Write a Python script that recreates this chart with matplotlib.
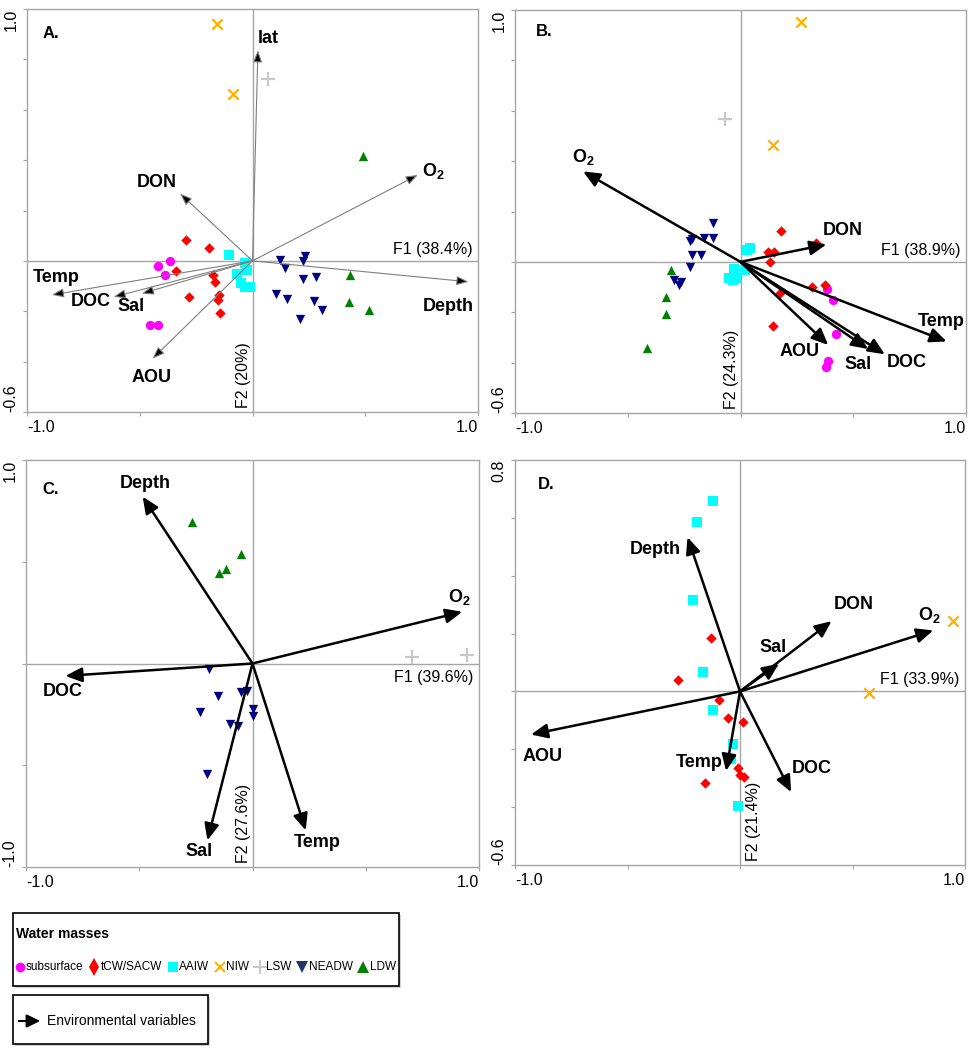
import matplotlib
matplotlib.use('Agg')
import matplotlib.pyplot as plt
from matplotlib import font_manager
from matplotlib.patches import Rectangle, FancyArrowPatch
from matplotlib.lines import Line2D

plt.rcParams['font.family'] = ['Liberation Sans', 'DejaVu Sans']
plt.rcParams['mathtext.fontset'] = 'custom'
plt.rcParams['mathtext.rm'] = 'Liberation Sans'
plt.rcParams['mathtext.bf'] = 'Liberation Sans:bold'

# water mass groups (legend order)
groups = ['subsurface', 'tCW/SACW', 'AAIW', 'NIW', 'LSW', 'NEADW', 'LDW']
colors = ['#FF00FF', '#FF0000', '#00FFFF', '#FFB000', '#C8C8C8', '#000080', '#008000']
legend_colors = ['#FF00FF', '#FF0000', '#00FFFF', '#FFB000', '#C8C8C8', '#1F3864', '#008000']
markers = ['o', 'D', 's', 'x', '+', 'v', '^']
msizes = [45, 28, 42, 55, 90, 45, 45]

# ---- panel A: sample scores ----
a_pts = {
    'subsurface': ([-0.417, -0.365, -0.387, -0.454, -0.417], [-0.020, 0.0, -0.056, -0.254, -0.254]),
    'tCW/SACW': ([-0.296, -0.195, -0.339, -0.173, -0.166, -0.281, -0.148, -0.155, -0.143],
                 [0.082, 0.053, -0.040, -0.056, -0.083, -0.143, -0.136, -0.156, -0.208]),
    'AAIW': ([-0.102, -0.033, -0.025, -0.069, -0.052, -0.033, -0.013],
             [0.024, -0.007, -0.037, -0.053, -0.086, -0.103, -0.103]),
    'NIW': ([-0.158, -0.087], [0.942, 0.664]),
    'LSW': ([0.068], [0.724]),
    'NEADW': ([0.123, 0.234, 0.223, 0.145, 0.223, 0.281, 0.105, 0.152, 0.271, 0.307, 0.211],
              [0.003, 0.020, 0.0, -0.030, -0.073, -0.066, -0.130, -0.150, -0.161, -0.195, -0.232]),
    'LDW': ([0.488, 0.433, 0.426, 0.517], [0.417, -0.057, -0.165, -0.196]),
}
a_vars = ['lat', 'O2', 'DON', 'Temp', 'DOC', 'Sal', 'AOU', 'Depth']
a_vx = [0.024, 0.733, -0.321, -0.890, -0.616, -0.491, -0.443, 0.958]
a_vy = [0.836, 0.341, 0.267, -0.135, -0.143, -0.130, -0.388, -0.083]

# ---- panel B ----
b_pts = {
    'subsurface': ([0.384, 0.408, 0.423, 0.389, 0.381], [-0.106, -0.153, -0.287, -0.394, -0.416]),
    'tCW/SACW': ([0.179, 0.337, 0.123, 0.148, 0.130, 0.315, 0.374, 0.177, 0.142],
                 [0.122, 0.073, 0.040, 0.040, 0.0, -0.100, -0.093, -0.124, -0.253]),
    'AAIW': ([0.027, 0.044, -0.030, 0.019, -0.050, -0.033, -0.018],
             [0.049, 0.056, -0.027, -0.031, -0.064, -0.070, -0.066]),
    'NIW': ([0.268, 0.142], [0.953, 0.464]),
    'LSW': ([-0.067], [0.568]),
    'NEADW': ([-0.121, -0.213, -0.163, -0.121, -0.222, -0.214, -0.173, -0.225, -0.294, -0.265, -0.272],
              [0.156, 0.089, 0.096, 0.093, 0.082, 0.029, 0.029, -0.020, -0.070, -0.081, -0.090]),
    'LDW': ([-0.309, -0.331, -0.331, -0.414], [-0.031, -0.141, -0.207, -0.340]),
}
b_vars = ['O2', 'DON', 'Temp', 'AOU', 'Sal', 'DOC']
b_vx = [-0.698, 0.381, 0.914, 0.389, 0.566, 0.640]
b_vy = [0.359, 0.069, -0.316, -0.330, -0.346, -0.367]

# ---- panel C ----
c_pts = {
    'LSW': ([0.706, 0.949], [0.033, 0.041]),
    'NEADW': ([-0.194, -0.154, -0.051, -0.026, -0.231, 0.004, 0.0, -0.099, -0.066, -0.203],
              [-0.025, -0.161, -0.139, -0.134, -0.238, -0.226, -0.257, -0.295, -0.308, -0.541]),
    'LDW': ([-0.269, -0.049, -0.115, -0.150], [0.697, 0.538, 0.462, 0.446]),
}
c_vars = ['Depth', 'O2', 'DOC', 'Sal', 'Temp']
c_vx = [-0.485, 0.926, -0.826, -0.199, 0.235]
c_vy = [0.820, 0.254, -0.061, -0.869, -0.820]

# ---- panel D ----
d_pts = {
    'tCW/SACW': ([-0.130, -0.277, -0.093, -0.055, 0.015, -0.007, 0.0, 0.019, -0.156],
                 [0.184, 0.038, -0.031, -0.091, -0.106, -0.264, -0.290, -0.296, -0.316]),
    'AAIW': ([-0.119, -0.193, -0.210, -0.163, -0.119, -0.033, -0.040, -0.007],
             [0.660, 0.585, 0.315, 0.067, -0.063, -0.181, -0.235, -0.396]),
    'NIW': ([0.948, 0.573], [0.245, -0.006]),
}
d_vars = ['Depth', 'DON', 'Sal', 'O2', 'AOU', 'Temp', 'DOC']
d_vx = [-0.233, 0.407, 0.173, 0.859, -0.929, -0.062, 0.227]
d_vy = [0.533, 0.243, 0.096, 0.211, -0.149, -0.275, -0.348]

# layout: label centres for each variable (data coords)
a_lab = {'lat': (0.071, 0.884), 'O2': (0.803, 0.357), 'DON': (-0.424, 0.311), 'Temp': (-0.871, -0.066),
         'DOC': (-0.717, -0.161), 'Sal': (-0.538, -0.181), 'AOU': (-0.449, -0.463), 'Depth': (0.869, -0.181)}
b_lab = {'O2': (-0.698, 0.415), 'DON': (0.452, 0.125), 'Temp': (0.891, -0.237), 'AOU': (0.263, -0.356),
         'Sal': (0.519, -0.406), 'DOC': (0.739, -0.399)}
c_lab = {'Depth': (-0.475, 0.885), 'O2': (0.912, 0.328), 'DOC': (-0.838, -0.139), 'Sal': (-0.235, -0.923),
         'Temp': (0.287, -0.882)}
d_lab = {'Depth': (-0.378, 0.491), 'DON': (0.504, 0.301), 'Sal': (0.145, 0.151), 'O2': (0.841, 0.265),
         'AOU': (-0.877, -0.224), 'Temp': (-0.181, -0.244), 'DOC': (0.319, -0.267)}

W, H = 974, 1050
fig = plt.figure(figsize=(W / 100, H / 100), dpi=100)


def px_axes(l, t, r, b):
    return fig.add_axes([l / W, 1 - b / H, (r - l) / W, (b - t) / H])


def var_text(name):
    return r'O$_\mathbf{2}$' if name == 'O2' else name


def setup(ax, ylim, yticks, ylabels, f1, f2, f1_below=False, f2_right=False):
    ax.set_xlim(-1, 1)
    ax.set_ylim(*ylim)
    for s in ax.spines.values():
        s.set_color('#a6a6a6')
        s.set_linewidth(1.0)
    ax.axhline(0, color='#a6a6a6', lw=1.0, zorder=0)
    ax.axvline(0, color='#a6a6a6', lw=1.0, zorder=0)
    ax.set_xticks([-1, -0.5, 0, 0.5, 1])
    ax.set_xticklabels(['-1.0', '', '', '', '1.0'], fontsize=11.5)
    xl = ax.get_xticklabels()
    xl[0].set_ha('left')
    xl[-1].set_ha('right')
    ax.set_yticks(yticks)
    ax.set_yticklabels(ylabels, fontsize=11.5, rotation=90)
    yl = ax.get_yticklabels()
    yl[0].set_va('bottom')
    yl[-1].set_va('top')
    ax.tick_params(length=3, width=0.8, color='#a6a6a6', pad=3)
    if f1_below:
        ax.annotate(f1, xy=(1, 0), xycoords=('axes fraction', 'data'), xytext=(-4, -5),
                    textcoords='offset points', ha='right', va='top', fontsize=11.5)
    else:
        ax.annotate(f1, xy=(1, 0), xycoords=('axes fraction', 'data'), xytext=(-4, 3),
                    textcoords='offset points', ha='right', va='bottom', fontsize=11.5)
    if f2_right:
        ax.annotate(f2, xy=(0, 0), xycoords=('data', 'axes fraction'), xytext=(4, 3),
                    textcoords='offset points', ha='left', va='bottom', rotation=90, fontsize=11.5)
    else:
        ax.annotate(f2, xy=(0, 0), xycoords=('data', 'axes fraction'), xytext=(-1, 3),
                    textcoords='offset points', ha='right', va='bottom', rotation=90, fontsize=11.5)


def draw_points(ax, pts):
    for g, (xs, ys) in pts.items():
        i = groups.index(g)
        lw = 1.6 if markers[i] in ('x', '+') else 0
        ax.scatter(xs, ys, marker=markers[i], s=msizes[i], color=colors[i], linewidths=lw, zorder=3)


def draw_vectors(ax, names, vx, vy, labels, thin=False):
    for n, x, y in zip(names, vx, vy):
        if thin:
            props = dict(arrowstyle='-|>,head_length=0.45,head_width=0.17', ec='#7f7f7f', fc='black',
                         lw=0.8, mutation_scale=16, shrinkA=0, shrinkB=0)
        else:
            props = dict(arrowstyle='-|>,head_length=0.5,head_width=0.22', color='black',
                         lw=1.8, mutation_scale=20, shrinkA=0, shrinkB=0)
        ax.annotate('', xy=(x, y), xytext=(0, 0), arrowprops=props, zorder=4)
        lx, ly = labels[n]
        ax.text(lx, ly, var_text(n), ha='center', va='center', fontsize=13, fontweight='bold', zorder=5)


yt_a = [-0.6, -0.4, -0.2, 0, 0.2, 0.4, 0.6, 0.8, 1.0]
yl_a = ['-0.6'] + [''] * 7 + ['1.0']

axA = px_axes(27, 9, 478, 412)
setup(axA, (-0.6, 1.0), yt_a, yl_a, 'F1 (38.4%)', 'F2 (20%)')
draw_vectors(axA, a_vars, a_vx, a_vy, a_lab, thin=True)
draw_points(axA, a_pts)
axA.text(0.035, 0.958, 'A.', transform=axA.transAxes, fontsize=12, fontweight='bold', va='top')

axB = px_axes(515, 10, 966, 413)
setup(axB, (-0.6, 1.0), yt_a, yl_a, 'F1 (38.9%)', 'F2 (24.3%)')
draw_points(axB, b_pts)
draw_vectors(axB, b_vars, b_vx, b_vy, b_lab)
axB.text(0.047, 0.965, 'B.', transform=axB.transAxes, fontsize=12, fontweight='bold', va='top')

axC = px_axes(26, 460, 479, 867)
setup(axC, (-1.0, 1.0), [-1.0, -0.5, 0, 0.5, 1.0], ['-1.0', '', '', '', '1.0'],
      'F1 (39.6%)', 'F2 (27.6%)', f1_below=True)
draw_points(axC, c_pts)
draw_vectors(axC, c_vars, c_vx, c_vy, c_lab)
axC.text(0.037, 0.946, 'C.', transform=axC.transAxes, fontsize=12, fontweight='bold', va='top')

axD = px_axes(515, 460, 965, 865)
setup(axD, (-0.6, 0.8), [-0.6, -0.4, -0.2, 0, 0.2, 0.4, 0.6, 0.8], ['-0.6'] + [''] * 6 + ['0.8'],
      'F1 (33.9%)', 'F2 (21.4%)', f2_right=True)
draw_points(axD, d_pts)
draw_vectors(axD, d_vars, d_vx, d_vy, d_lab)
axD.text(0.051, 0.958, 'D.', transform=axD.transAxes, fontsize=12, fontweight='bold', va='top')


# ---- legend boxes (drawn in figure pixels) ----
def fx(x):
    return x / W


def fy(y):
    return 1 - y / H


# use a narrow face if one is installed, the reference legend is set condensed
leg_family = ['Liberation Sans', 'DejaVu Sans']
if any(f.name == 'Liberation Sans Narrow' for f in font_manager.fontManager.ttflist):
    leg_family = ['Liberation Sans Narrow', 'Liberation Sans']


def box(l, t, r, b):
    fig.add_artist(Rectangle((fx(l + 2), fy(b + 2)), (r - l) / W, (b - t) / H, transform=fig.transFigure,
                             fc='#d0d0d0', ec='none', zorder=1))
    fig.add_artist(Rectangle((fx(l), fy(b)), (r - l) / W, (b - t) / H, transform=fig.transFigure,
                             fc='white', ec='black', lw=1.2, zorder=2))


box(13, 913, 399, 986)
fig.text(fx(16), fy(934), 'Water masses', family=leg_family, fontsize=10, fontweight='bold',
         va='center', zorder=3)

# lay the entries out one after another so the row fills the box
leg_fs = 8.5
leg_ms = [7, 9, 6.5, 6.5, 10, 8, 9]
r = fig.canvas.get_renderer()
widths = []
for g in groups:
    t = fig.text(0, 0, g, family=leg_family, fontsize=leg_fs)
    widths.append(t.get_window_extent(r).width)
    t.remove()
mark_w, mark_gap = 9, 2
row_l, row_r = 15, 396
gap = (row_r - row_l - sum(widths) - len(groups) * (mark_w + mark_gap)) / (len(groups) - 1)
x = row_l
for i, g in enumerate(groups):
    mk = 'd' if markers[i] == 'D' else markers[i]
    fig.add_artist(Line2D([fx(x + mark_w / 2)], [fy(967)], transform=fig.transFigure, marker=mk,
                          ms=leg_ms[i], color=legend_colors[i], mew=1.5 if mk in ('x', '+') else 0,
                          ls='none', zorder=3))
    fig.text(fx(x + mark_w + mark_gap), fy(967), g, family=leg_family, fontsize=leg_fs, va='center', zorder=3)
    x += mark_w + mark_gap + widths[i] + gap

box(13, 995, 208, 1044)
fig.add_artist(FancyArrowPatch((fx(16), fy(1021)), (fx(43), fy(1021)), transform=fig.transFigure,
                               arrowstyle='-|>,head_length=0.45,head_width=0.22', mutation_scale=18,
                               color='black', lw=1.5, zorder=3))
fig.text(fx(47), fy(1021), 'Environmental variables', family=leg_family, fontsize=10, va='center', zorder=3)

fig.savefig('out.png', dpi=100)
